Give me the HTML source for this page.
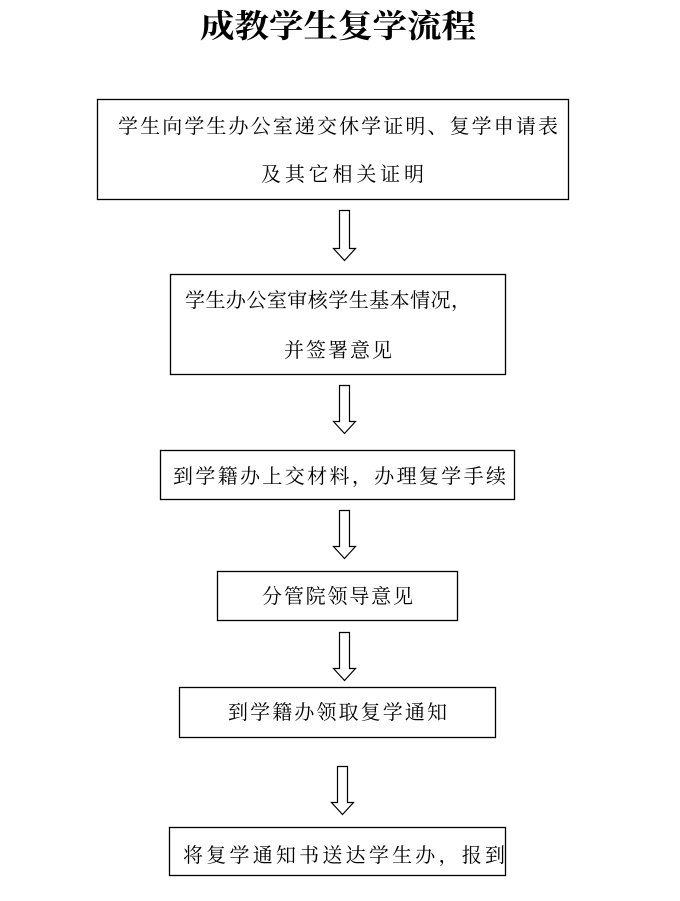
<!DOCTYPE html>
<html><head><meta charset="utf-8"><style>
html,body{margin:0;padding:0;background:#fff;}
svg text{font-family:"Liberation Serif","Noto Serif CJK SC","Noto Sans CJK SC",serif;fill:#000;}
</style></head><body>
<svg width="680" height="896" viewBox="0 0 680 896" xmlns="http://www.w3.org/2000/svg">
<text x="338" y="37" font-size="32" font-weight="bold" text-anchor="middle" textLength="276" lengthAdjust="spacingAndGlyphs">成教学生复学流程</text>
<g fill="none" stroke="#000" stroke-width="1.3">
<rect x="97.5" y="99.5" width="471" height="100"/>
<rect x="170.5" y="274.5" width="335" height="100"/>
<rect x="160.5" y="450.5" width="354" height="49"/>
<rect x="217.5" y="571.5" width="240" height="49"/>
<rect x="179.5" y="687.5" width="316" height="50"/>
<rect x="169.5" y="827.5" width="336" height="48"/>
</g>
<g fill="#fff" stroke="#000" stroke-width="1.2">
<path d="M339.5 210.5 H349.5 V248.5 H355.5 L344.5 260.5 L333.5 248.5 H339.5 Z"/>
<path d="M339.5 385.5 H349.5 V421.5 H355.5 L344.5 433.5 L333.5 421.5 H339.5 Z"/>
<path d="M339.5 510.5 H349.5 V546.5 H355.5 L344.5 558.5 L333.5 546.5 H339.5 Z"/>
<path d="M339.5 632.5 H349.5 V668.5 H355.5 L344.5 680.5 L333.5 668.5 H339.5 Z"/>
<path d="M337.5 766.5 H347.5 V802.5 H353.5 L342.5 814.5 L331.5 802.5 H337.5 Z"/>
</g>
<g font-size="20">
<text x="118" y="133" textLength="440" lengthAdjust="spacing">学生向学生办公室递交休学证明、复学申请表</text>
<text x="261" y="181" textLength="163" lengthAdjust="spacing">及其它相关证明</text>
<text x="185" y="307" textLength="286" lengthAdjust="spacing">学生办公室审核学生基本情况，</text>
<text x="284" y="357" textLength="108" lengthAdjust="spacing">并签署意见</text>
<text x="173" y="483" textLength="333" lengthAdjust="spacing">到学籍办上交材料，办理复学手续</text>
<text x="262" y="603" textLength="151" lengthAdjust="spacing">分管院领导意见</text>
<text x="228" y="719" textLength="219" lengthAdjust="spacing">到学籍办领取复学通知</text>
<text x="183" y="862" textLength="322" lengthAdjust="spacing">将复学通知书送达学生办，报到</text>
</g>
</svg>
</body></html>
